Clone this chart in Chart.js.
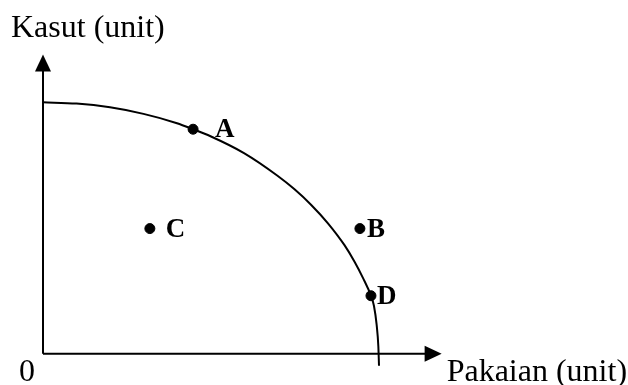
<!DOCTYPE html>
<html>
<head>
<title>Keluk Kemungkinan Pengeluaran</title>
<script src="https://cdn.jsdelivr.net/npm/chart.js"></script>
<style>
  html, body { margin: 0; padding: 0; background: #fff; }
  #wrap { width: 628px; height: 385px; }
</style>
</head>
<body>
<div id="wrap"><canvas id="ppf" width="628" height="385"></canvas></div>
<script>
// curve (Pakaian, Kasut)
const curveX = [0, 1, 2, 3, 4, 4.48, 5, 6, 7, 7.5, 8, 8.5, 9, 9.3, 9.55, 9.79, 9.88, 9.96, 10.01, 10.03];
const curveY = [10, 9.95, 9.80, 9.54, 9.17, 8.93, 8.65, 7.98, 7.08, 6.55, 5.93, 5.20, 4.32, 3.66, 3.02, 2.31, 1.90, 1.15, 0.30, -0.47];

// labelled points
const pointNames = ['A', 'B', 'C', 'D'];
const pointX = [4.48, 9.46, 3.19, 9.79];
const pointY = [8.93, 4.98, 4.98, 2.31];

const xTitle = 'Pakaian (unit)';
const yTitle = 'Kasut (unit)';
const originLabel = '0';
const axisEnd = 11.9;

const serif = '"Liberation Serif", "Times New Roman", serif';
// gap between dot and its letter
const labelGap = { A: 22, B: 7, C: 16, D: 6 };

const axesPlugin = {
  id: 'axesPlugin',
  afterDatasetsDraw(chart) {
    const ctx = chart.ctx;
    const xs = chart.scales.x, ys = chart.scales.y;
    const x0 = xs.getPixelForValue(0), y0 = ys.getPixelForValue(0);
    const xEnd = xs.getPixelForValue(axisEnd), yEnd = ys.getPixelForValue(axisEnd);
    ctx.save();
    ctx.strokeStyle = '#000';
    ctx.fillStyle = '#000';
    ctx.lineWidth = 2;
    // axis lines
    ctx.beginPath();
    ctx.moveTo(x0, y0);
    ctx.lineTo(xEnd - 14, y0);
    ctx.moveTo(x0, y0);
    ctx.lineTo(x0, yEnd + 14);
    ctx.stroke();
    // arrow heads
    ctx.beginPath();
    ctx.moveTo(xEnd, y0);
    ctx.lineTo(xEnd - 17, y0 - 8);
    ctx.lineTo(xEnd - 17, y0 + 8);
    ctx.closePath();
    ctx.fill();
    ctx.beginPath();
    ctx.moveTo(x0, yEnd);
    ctx.lineTo(x0 - 8, yEnd + 17);
    ctx.lineTo(x0 + 8, yEnd + 17);
    ctx.closePath();
    ctx.fill();

    // axis titles
    ctx.font = '32px ' + serif;
    ctx.textBaseline = 'alphabetic';
    ctx.textAlign = 'left';
    ctx.fillText(yTitle, 11, 37);
    ctx.fillText(xTitle, xEnd + 5, 381);
    ctx.fillText(originLabel, 19, 381);

    // point labels
    ctx.font = 'bold 27px ' + serif;
    ctx.textBaseline = 'middle';
    pointNames.forEach((n, i) => {
      const px = xs.getPixelForValue(pointX[i]);
      const py = ys.getPixelForValue(pointY[i]);
      ctx.fillText(n, px + labelGap[n], py + 1);
    });
    ctx.restore();
  }
};

new Chart(document.getElementById('ppf'), {
  type: 'scatter',
  data: {
    datasets: [
      {
        type: 'line',
        data: curveX.map((x, i) => ({ x: x, y: curveY[i] })),
        borderColor: '#000',
        borderWidth: 2,
        pointRadius: 0,
        cubicInterpolationMode: 'monotone',
        fill: false
      },
      {
        data: pointX.map((x, i) => ({ x: x, y: pointY[i] })),
        backgroundColor: '#000',
        borderColor: '#000',
        pointRadius: 5,
        pointHoverRadius: 5
      }
    ]
  },
  options: {
    responsive: false,
    animation: false,
    events: [],
    layout: { padding: { left: 43, right: 183, top: 52, bottom: 1.5 } },
    scales: {
      x: { type: 'linear', min: 0, max: 12, display: false },
      y: { type: 'linear', min: -1, max: 12, display: false }
    },
    plugins: {
      legend: { display: false },
      tooltip: { enabled: false }
    }
  },
  plugins: [axesPlugin]
});
</script>
</body>
</html>
